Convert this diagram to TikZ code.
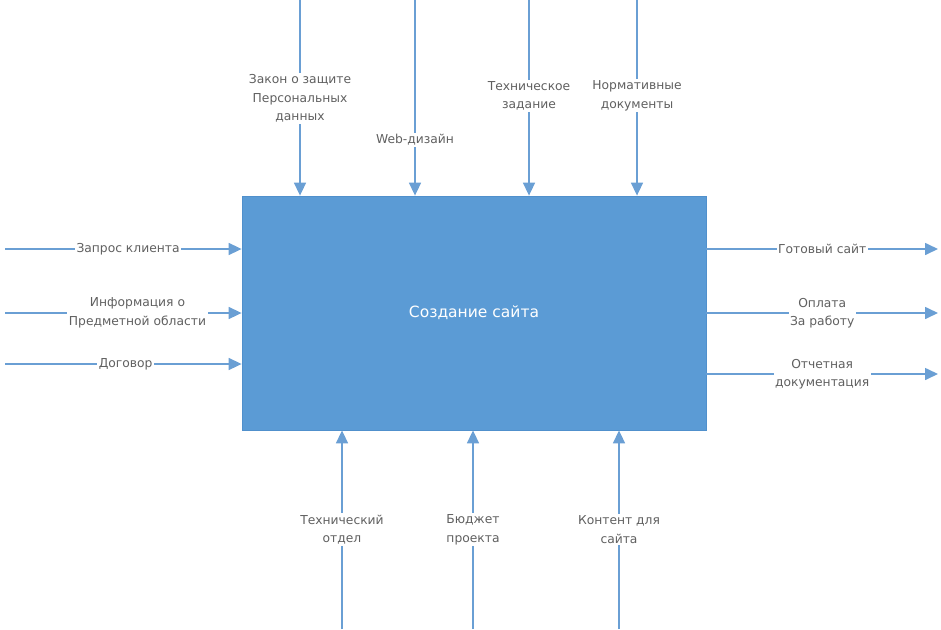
\documentclass[tikz,border=0pt]{standalone}
\usepackage{fontspec}
\setmainfont{DejaVu Sans}
\usetikzlibrary{arrows.meta,positioning}
\definecolor{boxblue}{HTML}{5B9BD5}
\definecolor{boxedge}{HTML}{5090CC}
\definecolor{flowblue}{HTML}{6A9FD4}
\definecolor{txtgray}{HTML}{606060}
\tikzset{x=1pt,y=-1pt,
  flow/.style={draw=flowblue,line width=1.6pt,-{Triangle[length=13pt,width=12pt]}},
  lbl/.style={fill=white,inner sep=1.5pt,text=txtgray,font=\fontsize{12.3}{18.5}\selectfont,align=center},
  process/.style={draw=boxedge,fill=boxblue,line width=0.8pt,minimum width=464pt,minimum height=234pt,inner sep=0pt,
    text=white,font=\fontsize{15.5}{18}\selectfont}}
\begin{document}
\begin{tikzpicture}
    \useasboundingbox (0,0) rectangle (941,629);
    \node[process] (main) at (474,313) {Создание сайта};
    % inputs
    \coordinate (in1) at (5,249);
    \coordinate (in2) at (5,313);
    \coordinate (in3) at (5,364);
    \draw[flow] (in1) -- node[lbl,pos=0.52] {Запрос клиента} (main.west |- in1);
    \draw[flow] (in2) -- node[lbl,pos=0.56] {Информация о\\Предметной области} (main.west |- in2);
    \draw[flow] (in3) -- node[lbl,pos=0.51] {Договор} (main.west |- in3);
    % outputs
    \coordinate (out1) at (938,249);
    \coordinate (out2) at (938,313);
    \coordinate (out3) at (938,374);
    \draw[flow] (main.east |- out1) -- node[lbl,pos=0.5] {Готовый сайт} (out1);
    \draw[flow] (main.east |- out2) -- node[lbl,pos=0.5] {Оплата\\За работу} (out2);
    \draw[flow] (main.east |- out3) -- node[lbl,pos=0.5] {Отчетная\\документация} (out3);
    % controls
    \coordinate (ctl1) at (300,0);
    \coordinate (ctl2) at (415,0);
    \coordinate (ctl3) at (529,0);
    \coordinate (ctl4) at (637,0);
    \draw[flow] (ctl1) -- node[lbl,pos=0.505] {Закон о защите\\Персональных\\данных} (main.north -| ctl1);
    \draw[flow] (ctl2) -- node[lbl,pos=0.715] {Web-дизайн} (main.north -| ctl2);
    \draw[flow] (ctl3) -- node[lbl,pos=0.49] {Техническое\\задание} (main.north -| ctl3);
    \draw[flow] (ctl4) -- node[lbl,pos=0.49] {Нормативные\\документы} (main.north -| ctl4);
    % mechanisms
    \coordinate (mech1) at (342,629);
    \coordinate (mech2) at (473,629);
    \coordinate (mech3) at (619,629);
    \draw[flow] (mech1) -- node[lbl,pos=0.5] {Технический\\отдел} (main.south -| mech1);
    \draw[flow] (mech2) -- node[lbl,pos=0.5] {Бюджет\\проекта} (main.south -| mech2);
    \draw[flow] (mech3) -- node[lbl,pos=0.5] {Контент для\\сайта} (main.south -| mech3);
\end{tikzpicture}
\end{document}
